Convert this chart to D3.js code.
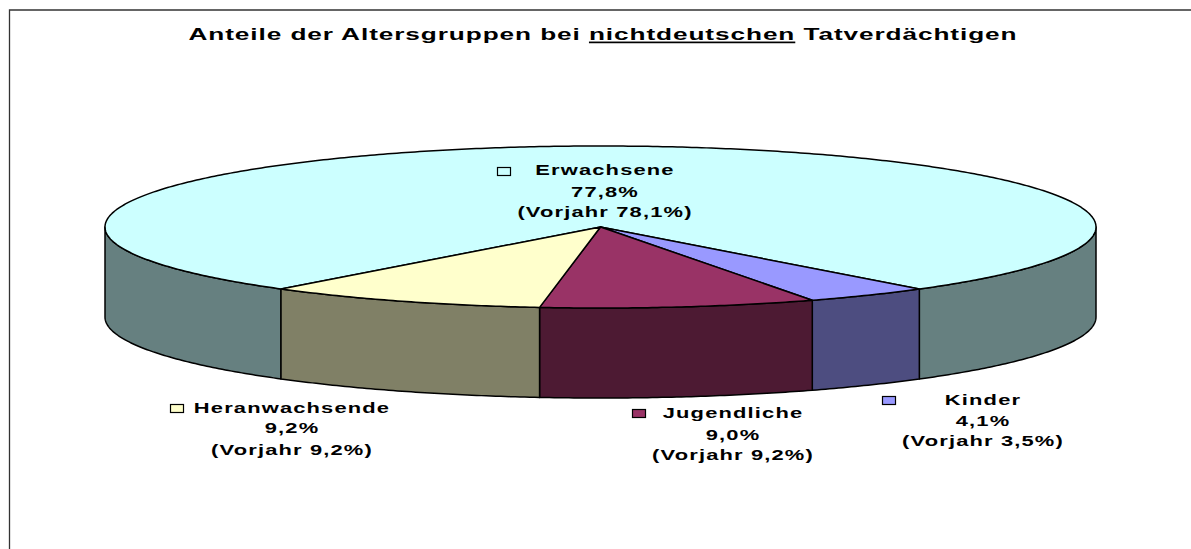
<!DOCTYPE html>
<html><head><meta charset="utf-8">
<script src="https://cdn.jsdelivr.net/npm/d3@7/dist/d3.min.js"></script>
<style>html,body{margin:0;padding:0;background:#fff;overflow:hidden}svg{display:block}
text{font-family:"Liberation Sans",Arial,sans-serif;font-weight:700;fill:#000}</style>
</head><body><svg id="c" width="1191" height="549"></svg>
<script>
const titleParts = ["Anteile der Altersgruppen bei ", "nichtdeutschen", " Tatverdächtigen"];
const categories = ["Erwachsene", "Kinder", "Jugendliche", "Heranwachsende"];
const shares = [77.8, 4.1, 9.0, 9.2];
const shareLabels = ["77,8%", "4,1%", "9,0%", "9,2%"];
const priorLabels = ["(Vorjahr 78,1%)", "(Vorjahr 3,5%)", "(Vorjahr 9,2%)", "(Vorjahr 9,2%)"];
const topColors = ["#CCFFFF", "#9999FF", "#993366", "#FFFFCC"];
const sideColors = ["#668080", "#4D4D80", "#4D1A33", "#808066"];

// layout
const labelPos = [
  {cx:605, y:[175,197,217], key:[497,167]},
  {cx:983, y:[405,426,446], key:[882,396]},
  {cx:733, y:[418,440,460], key:[632,409]},
  {cx:292, y:[413,433,455], key:[170,404]}
];
const svg = d3.select("#c");
const x = d3.scaleLinear().domain([-1,1]).range([105,1096]);
const y = d3.scaleLinear().domain([-1,1]).range([146,308]);
const depth = 90;
const start = 220.15*Math.PI/180;
const pie = d3.pie().sort(null).startAngle(start).endAngle(start+2*Math.PI);
const arcs = pie(shares);
const px = a => x(Math.sin(a)), py = a => y(-Math.cos(a));
const line = d3.line();
const steps = (a,b) => { const n = Math.max(2,Math.ceil((b-a)/0.01)); return d3.range(n+1).map(i=>a+(b-a)*i/n); };

// frame
svg.append("path").attr("d","M9.5,549V10H1191").attr("fill","none").attr("stroke","#333").attr("stroke-width",1.3);

// side walls: only the part of each slice in the front half (90deg..270deg)
const P = Math.PI;
const sideSegs = [];
arcs.forEach((d,i)=>{
  for (const k of [0,2*P]) {
    const a = Math.max(d.startAngle, P/2+k), b = Math.min(d.endAngle, 3*P/2+k);
    if (b>a) sideSegs.push({a,b,i});
  }
});
svg.append("g").selectAll("path").data(sideSegs).join("path")
  .attr("d",s=>{
    const t = steps(s.a,s.b);
    const pts = t.map(a=>[px(a),py(a)]).concat(t.slice().reverse().map(a=>[px(a),py(a)+depth]));
    return line(pts)+"Z";
  })
  .attr("fill",s=>sideColors[s.i]).attr("stroke","#000").attr("stroke-width",1.5).attr("stroke-linejoin","round");

// top slices
svg.append("g").selectAll("path").data(arcs).join("path")
  .attr("d",d=>{
    const pts = [[x(0),y(0)]].concat(steps(d.startAngle,d.endAngle).map(a=>[px(a),py(a)]));
    return line(pts)+"Z";
  })
  .attr("fill",(d,i)=>topColors[i]).attr("stroke","#000").attr("stroke-width",1.5).attr("stroke-linejoin","round");

// title (the reference type is stretched horizontally)
const t = svg.append("text").attr("text-anchor","middle")
  .attr("transform","translate(603,40) scale(1.54,1)")
  .style("font-size","17px").style("letter-spacing","0.6px");
titleParts.forEach((p,i)=>{
  t.append("tspan").text(p).style("white-space","pre").style("text-decoration",i===1?"underline":"none");
});

// labels
const lab = svg.append("g").selectAll("g").data(categories).join("g");
lab.each(function(c,i){
  const g = d3.select(this), L = labelPos[i];
  g.append("rect").attr("x",L.key[0]+.5).attr("y",L.key[1]+.5).attr("width",13).attr("height",8)
    .attr("fill",topColors[i]).attr("stroke","#000").attr("stroke-width",1.2);
  [c,shareLabels[i],priorLabels[i]].forEach((s,j)=>{
    g.append("text").attr("text-anchor","middle")
      .attr("transform",`translate(${L.cx},${L.y[j]}) scale(1.46,1)`)
      .style("font-size","15px").style("letter-spacing","0.8px").text(s);
  });
});
</script></body></html>
